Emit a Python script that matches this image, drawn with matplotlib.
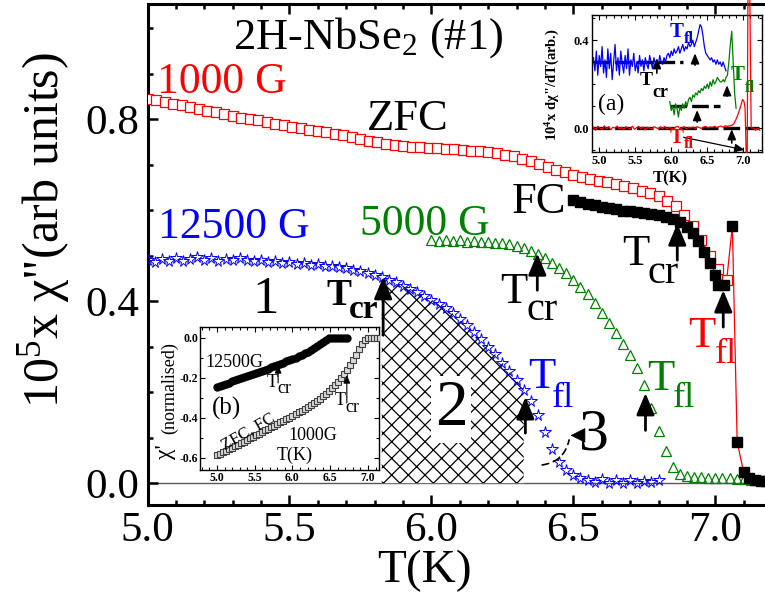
import numpy as np
import matplotlib
matplotlib.use("Agg")
import matplotlib.pyplot as plt
from matplotlib.ticker import MultipleLocator

plt.rcParams['font.family'] = 'Liberation Serif'
plt.rcParams['mathtext.fontset'] = 'custom'
plt.rcParams['mathtext.rm'] = 'Liberation Serif'
plt.rcParams['mathtext.it'] = 'Liberation Serif:italic'
plt.rcParams['mathtext.bf'] = 'Liberation Serif:bold'
plt.rcParams['axes.unicode_minus'] = False
plt.rcParams['hatch.linewidth'] = 0.9

W, H = 765, 599

# ---- main panel data ----
# 1000 G, ZFC (open red squares), T = 5.00 + 0.03*i
zfc_chi = [0.845, 0.843, 0.838, 0.834, 0.830, 0.826, 0.822, 0.818, 0.815, 0.811,
           0.807, 0.803, 0.800, 0.797, 0.793, 0.790, 0.787, 0.783, 0.780, 0.777,
           0.774, 0.771, 0.768, 0.765, 0.761, 0.757, 0.753, 0.749, 0.746, 0.743,
           0.741, 0.739, 0.738, 0.737, 0.736, 0.735, 0.734, 0.732, 0.731, 0.729,
           0.727, 0.725, 0.722, 0.718, 0.713, 0.707, 0.701, 0.695, 0.689, 0.683,
           0.677, 0.672, 0.668, 0.665, 0.662, 0.658, 0.653, 0.648, 0.643, 0.637,
           0.630, 0.621, 0.608, 0.590, 0.565, 0.535, 0.500, 0.470, 0.446]
zfc_T = 5.0 + 0.03 * np.arange(len(zfc_chi))

# 1000 G, FC (filled black squares)
fc_T = [6.50, 6.525, 6.55, 6.575, 6.60, 6.625, 6.65, 6.675, 6.70, 6.725, 6.75,
        6.775, 6.80, 6.825, 6.85, 6.875, 6.90, 6.92, 6.94, 6.96, 6.98, 7.00,
        7.01, 7.03, 7.06, 7.077, 7.10, 7.12, 7.14, 7.16, 7.18]
fc_chi = [0.622, 0.618, 0.614, 0.611, 0.607, 0.604, 0.602, 0.599, 0.597, 0.595,
          0.593, 0.591, 0.589, 0.586, 0.581, 0.575, 0.563, 0.550, 0.532, 0.507,
          0.483, 0.457, 0.435, 0.436, 0.565, 0.090, 0.024, 0.012, 0.008, 0.005,
          0.004]

# 12500 G (open blue stars), T = 5.00 + 0.025*i
b12_chi = [0.490, 0.486, 0.492, 0.488, 0.494, 0.489, 0.493, 0.497, 0.491, 0.495,
           0.489, 0.492, 0.490, 0.494, 0.491, 0.488, 0.490, 0.486, 0.488, 0.484,
           0.486, 0.482, 0.484, 0.480, 0.481, 0.477, 0.478, 0.474, 0.472, 0.468,
           0.466, 0.461, 0.457, 0.452, 0.447, 0.441, 0.434, 0.427, 0.419, 0.411,
           0.403, 0.394, 0.385, 0.373, 0.360, 0.347, 0.333, 0.317, 0.300, 0.283,
           0.265, 0.246, 0.227, 0.205, 0.180, 0.150, 0.112, 0.075, 0.046, 0.028,
           0.017, 0.011, 0.008, 0.002, 0.009, 0.001, 0.007, 0.000, 0.006, 0.001,
           0.005, 0.002, 0.006]
b12_T = 5.0 + 0.025 * np.arange(len(b12_chi))

# 5000 G (open green triangles), T = 6.00 + 0.025*i
g5_chi = [0.534, 0.533, 0.535, 0.532, 0.534, 0.531, 0.533, 0.530, 0.531, 0.528,
          0.528, 0.525, 0.522, 0.517, 0.511, 0.503, 0.494, 0.484, 0.473, 0.461,
          0.447, 0.432, 0.415, 0.395, 0.374, 0.352, 0.330, 0.306, 0.282, 0.252,
          0.215, 0.165, 0.115, 0.070, 0.035, 0.020, 0.016, 0.014, 0.013, 0.012,
          0.012, 0.011, 0.011, 0.010, 0.010, 0.008, 0.006]
g5_T = 6.0 + 0.025 * np.arange(len(g5_chi))

# hatched (region 2) limits
hatch_T0, hatch_T1 = 5.82, 6.33

# ---- inset (a): derivative, arb. units ----
a_blue = [0.32, 0.26, 0.35, 0.24, 0.33, 0.28, 0.37, 0.25, 0.31, 0.23,
          0.36, 0.27, 0.34, 0.22, 0.30, 0.38, 0.26, 0.32, 0.24, 0.35,
          0.29, 0.25, 0.33, 0.27, 0.36, 0.24, 0.31, 0.28, 0.34, 0.26,
          0.30, 0.25, 0.33, 0.28, 0.31, 0.26, 0.32, 0.29, 0.27, 0.33,
          0.30, 0.27, 0.32, 0.29, 0.31, 0.28, 0.33, 0.30, 0.29, 0.32,
          0.30, 0.33, 0.34, 0.32, 0.35, 0.33, 0.36, 0.34, 0.35, 0.37,
          0.34, 0.36, 0.38, 0.35, 0.37, 0.36, 0.39, 0.37, 0.38, 0.40,
          0.37, 0.39, 0.41, 0.44, 0.47, 0.46, 0.42, 0.37, 0.34, 0.33,
          0.32, 0.31, 0.32, 0.30, 0.31, 0.29, 0.31, 0.29, 0.30, 0.28,
          0.30, 0.28, 0.26]
a_blue_T = 4.92 + 0.02 * np.arange(len(a_blue))

a_green = [0.12, 0.08, 0.10, 0.06, 0.11, 0.09, 0.05, 0.10, 0.08, 0.11,
           0.09, 0.12, 0.10, 0.13, 0.14, 0.12, 0.15, 0.14, 0.16, 0.15,
           0.17, 0.16, 0.18, 0.17, 0.19, 0.18, 0.20, 0.18, 0.21, 0.19,
           0.22, 0.20, 0.21, 0.23, 0.22, 0.21, 0.21, 0.22, 0.21, 0.23,
           0.24, 0.30, 0.38, 0.44, 0.30, 0.16, 0.09]
a_green_T = 5.98 + 0.02 * np.arange(len(a_green))

a_red_base = [0.005, -0.010, 0.008, 0.000, -0.006, 0.010, -0.004, 0.006, -0.008, 0.004,
              0.000, 0.009, -0.005, 0.003, -0.007, 0.006, 0.000, -0.004, 0.008, -0.006,
              0.002, 0.007, -0.003, 0.005, -0.008, 0.004, 0.000, -0.005, 0.006, 0.002,
              -0.004, 0.005, -0.002, 0.007, -0.005, 0.003, 0.000, -0.006, 0.004, 0.008,
              -0.003, 0.002, 0.006, -0.004, 0.003, 0.000, 0.005, -0.003, 0.006, 0.002,
              -0.002, 0.004, 0.007, 0.000, 0.005, 0.003, 0.008, 0.002, 0.006, 0.009,
              0.004, 0.010, 0.008]
a_red_tail_T = [6.81, 6.84, 6.87, 6.90, 6.93, 6.96, 6.99, 7.01, 7.025, 7.04, 7.055,
                7.065, 7.09, 7.11, 7.14, 7.17, 7.20, 7.23]
a_red_tail = [0.010, 0.012, 0.020, 0.040, 0.065, 0.095, 0.130, 0.120, 0.090, -0.11,
              -0.11, 0.62, 0.62, 0.000, 0.000, -0.010, 0.000, -0.010]
a_red_T = np.concatenate([4.92 + 0.03 * np.arange(len(a_red_base)), a_red_tail_T])
a_red = np.concatenate([a_red_base, a_red_tail])

# dashed reference levels in inset (a)
a_lvl_y = [0.30, 0.10, 0.0]
a_lvl_x0 = [4.92, 5.98, 4.92]
a_lvl_x1 = [6.17, 6.68, 7.22]

# ---- inset (b): chi' normalised ----
b_hi = [-0.245, -0.240, -0.234, -0.229, -0.223, -0.217, -0.212, -0.207, -0.201, -0.196,
        -0.190, -0.185, -0.180, -0.175, -0.170, -0.165, -0.159, -0.153, -0.147, -0.141,
        -0.135, -0.129, -0.123, -0.117, -0.111, -0.105, -0.098, -0.091, -0.084, -0.077,
        -0.070, -0.061, -0.052, -0.042, -0.031, -0.020, -0.008, 0.000, 0.000, 0.000,
        0.000, 0.000, 0.000, 0.000]
b_hi_T = 5.0 + 0.04 * np.arange(len(b_hi))
b_lo = [-0.585, -0.578, -0.571, -0.564, -0.557, -0.550, -0.542, -0.534, -0.526, -0.518,
        -0.510, -0.502, -0.494, -0.486, -0.478, -0.470, -0.462, -0.454, -0.446, -0.438,
        -0.430, -0.422, -0.414, -0.406, -0.398, -0.390, -0.381, -0.372, -0.363, -0.354,
        -0.345, -0.335, -0.325, -0.314, -0.303, -0.292, -0.279, -0.266, -0.251, -0.236,
        -0.220, -0.202, -0.182, -0.160, -0.137, -0.112, -0.085, -0.057, -0.030, -0.010,
        0.000, 0.000, 0.000, 0.000, 0.000]
b_lo_T = 5.0 + 0.04 * np.arange(len(b_lo))

RED, BLUE, GREEN = '#ff0000', '#0000ff', '#008000'


def px_axes(fig, l, t, r, b):
    return fig.add_axes([l / W, 1 - b / H, (r - l) / W, (b - t) / H])


def tlabel(axis, x, y, sub, color, size, subsize, dx, dy, weight='normal'):
    axis.text(x, y, 'T', color=color, fontsize=size, fontweight=weight,
              ha='left', va='baseline', zorder=6)
    axis.annotate(sub, xy=(x, y), xytext=(dx, dy), textcoords='offset points',
                  color=color, fontsize=subsize, fontweight=weight,
                  ha='left', va='baseline', zorder=6)


def arrow(axis, x0, y0, x1, y1, lw=2.0, scale=22):
    axis.annotate('', xy=(x1, y1), xytext=(x0, y0), zorder=6,
                  arrowprops=dict(arrowstyle='-|>,head_length=0.6,head_width=0.25',
                                  color='k', lw=lw, mutation_scale=scale,
                                  shrinkA=0, shrinkB=0))


fig = plt.figure(figsize=(W / 100, H / 100), dpi=100)
ax = px_axes(fig, 147.5, 4, 765, 505)
ax.set_xlim(5.0, 7.175)
ax.set_ylim(-0.048, 1.053)

ax.axhline(0, color='0.35', lw=1.0, zorder=1)

# region 2 hatch under the 12500 G curve
m = (b12_T >= hatch_T0 - 1e-9) & (b12_T <= hatch_T1 + 1e-9)
ax.fill_between(b12_T[m], 0, np.array(b12_chi)[m], facecolor='white',
                edgecolor='black', hatch='xx', lw=0, zorder=1.5)

red_line_T = np.concatenate([zfc_T, [t for t in fc_T if t > 7.04]])
red_line_chi = np.concatenate([zfc_chi, [c for t, c in zip(fc_T, fc_chi) if t > 7.04]])
ax.plot(red_line_T, red_line_chi, '-', color=RED, lw=0.9, zorder=2)
ax.plot(zfc_T, zfc_chi, 's', ms=7.5, mfc='white', mec=RED, mew=0.9, zorder=3)
ax.plot(fc_T, fc_chi, 's', ms=6.5, color='black', zorder=4)
ax.plot(b12_T, b12_chi, '*', ms=8.5, mfc='none', mec=BLUE, mew=0.7, zorder=3)
ax.plot(g5_T, g5_chi, '^', ms=7, mfc='none', mec=GREEN, mew=0.9, zorder=3)

for s in ['left', 'bottom', 'top']:
    ax.spines[s].set_linewidth(2.2)
ax.spines['right'].set_visible(False)
ax.xaxis.set_major_locator(MultipleLocator(0.5))
ax.xaxis.set_minor_locator(MultipleLocator(0.1))
ax.yaxis.set_major_locator(MultipleLocator(0.4))
ax.yaxis.set_minor_locator(MultipleLocator(0.1))
ax.tick_params(which='both', direction='in', top=True, right=False, width=1.8,
               labelsize=31)
ax.tick_params(which='major', length=7)
ax.tick_params(which='minor', length=3.5)
ax.tick_params(axis='x', pad=5)
ax.tick_params(axis='y', pad=6)

fig.text(44 / W, 1 - 230 / H, '$10^{5}$x χ"(arb units)', rotation=90,
         ha='center', va='center', fontsize=36)
fig.text(425 / W, 1 - 582 / H, 'T(K)', ha='center', va='baseline', fontsize=34)

ax.text(5.30, 0.956, '2H-NbSe$_{2}$ (#1)', fontsize=32, ha='left', va='baseline')
ax.text(5.033, 0.857, '1000 G', color=RED, fontsize=31.5, ha='left', va='baseline')
ax.text(5.773, 0.776, 'ZFC', fontsize=32, ha='left', va='baseline')
ax.text(6.284, 0.593, 'FC', fontsize=32, ha='left', va='baseline')
ax.text(5.037, 0.538, '12500 G', color=BLUE, fontsize=31.5, ha='left', va='baseline')
ax.text(5.748, 0.545, '5000 G', color=GREEN, fontsize=31.5, ha='left', va='baseline')
ax.text(5.371, 0.374, '1', fontsize=38, ha='left', va='baseline')
ax.text(6.069, 0.127, '2', fontsize=47, ha='center', va='baseline', zorder=5,
        bbox=dict(facecolor='white', edgecolor='none', pad=3))
ax.text(6.572, 0.073, '3', fontsize=43, ha='center', va='baseline')

# dashed arc and small head pointing at region 3
ax.annotate('', xy=(6.485, 0.095), xytext=(6.39, 0.04),
            arrowprops=dict(arrowstyle='-', color='k', lw=1.2, ls=(0, (4, 3)),
                            connectionstyle='arc3,rad=0.35', shrinkA=0, shrinkB=0))
ax.annotate('', xy=(6.49, 0.105), xytext=(6.515, 0.105),
            arrowprops=dict(arrowstyle='-|>,head_length=0.7,head_width=0.35',
                            color='k', lw=0.5, mutation_scale=14, shrinkA=0, shrinkB=0))

# T_cr / T_fl markers
arrow(ax, 5.83, 0.325, 5.83, 0.453)
arrow(ax, 6.373, 0.424, 6.373, 0.505)
arrow(ax, 6.866, 0.49, 6.866, 0.571)
arrow(ax, 6.331, 0.11, 6.331, 0.189)
arrow(ax, 6.754, 0.116, 6.754, 0.198)
arrow(ax, 7.028, 0.343, 7.028, 0.424)

tlabel(ax, 5.632, 0.391, 'cr', 'k', 27, 24, 15.5, -9.5, weight='bold')
tlabel(ax, 6.241, 0.396, 'cr', 'k', 32, 29, 19.4, -12.5)
tlabel(ax, 6.671, 0.479, 'cr', 'k', 32, 29, 18.7, -13)
tlabel(ax, 6.340, 0.209, 'fl', BLUE, 32, 26, 17.5, -13.5)
tlabel(ax, 6.759, 0.204, 'fl', GREEN, 32, 26, 18.7, -12.2)
tlabel(ax, 6.903, 0.299, 'fl', RED, 32, 26, 19.4, -11.5)

# ---- inset (a) ----
axa = px_axes(fig, 592, 15, 762, 152)
axa.set_facecolor('white')
axa.set_xlim(4.9, 7.26)
axa.set_ylim(-0.109, 0.514)
axa.hlines(a_lvl_y, a_lvl_x0, a_lvl_x1, colors='k', lw=2.4,
           linestyles=[(0, (5, 1.5))], zorder=2)
axa.plot(a_blue_T, a_blue, '-', color=BLUE, lw=0.9, zorder=3)
axa.plot(a_green_T, a_green, '-', color=GREEN, lw=0.9, zorder=3)
axa.plot(a_red_T, a_red, '-', color=RED, lw=0.9, zorder=3, clip_on=False)

arrow(axa, 5.80, 0.25, 5.80, 0.318, lw=1.2, scale=10)
arrow(axa, 6.33, 0.286, 6.33, 0.34, lw=1.2, scale=10)
arrow(axa, 6.36, 0.027, 6.36, 0.082, lw=1.2, scale=10)
arrow(axa, 6.775, 0.145, 6.775, 0.195, lw=1.2, scale=10)
arrow(axa, 6.84, -0.068, 6.84, -0.005, lw=1.2, scale=10)
arrow(axa, 6.17, -0.042, 7.02, -0.10, lw=0.9, scale=10)

tlabel(axa, 5.567, 0.195, 'cr', 'k', 14, 13, 9.0, -8.6, weight='bold')
tlabel(axa, 5.983, 0.414, 'fl', BLUE, 15, 12, 9.8, -4.3, weight='bold')
tlabel(axa, 6.83, 0.218, 'fl', GREEN, 15, 12, 9.8, -8.6, weight='bold')
tlabel(axa, 5.983, -0.068, 'fl', RED, 15, 12, 9.8, -3.6, weight='bold')
axa.text(4.983, 0.082, '(a)', fontsize=17, ha='left', va='baseline')

axa.xaxis.set_major_locator(MultipleLocator(0.5))
axa.xaxis.set_minor_locator(MultipleLocator(0.1))
axa.yaxis.set_major_locator(MultipleLocator(0.4))
axa.yaxis.set_minor_locator(MultipleLocator(0.1))
axa.tick_params(which='both', direction='in', top=True, right=True, width=0.8,
                labelsize=9, pad=2)
axa.tick_params(which='major', length=3.5)
axa.tick_params(which='minor', length=2)
for lab in axa.get_xticklabels() + axa.get_yticklabels():
    lab.set_fontweight('bold')
for s in axa.spines.values():
    s.set_linewidth(1.0)
axa.set_ylabel('$\\mathbf{10^{4}}$x dχ"/dT(arb.)', fontsize=10.5, fontweight='bold')
axa.yaxis.set_label_coords(-0.175, 0.49)
axa.text(0.46, -0.19, 'T(K)', transform=axa.transAxes, fontsize=12,
         fontweight='bold', ha='center', va='center')

# ---- inset (b) ----
axb = px_axes(fig, 200, 327, 379, 470)
axb.set_facecolor('white')
axb.set_xlim(4.775, 7.146)
axb.set_ylim(-0.66, 0.055)
axb.plot(b_hi_T, b_hi, '-o', color='black', lw=2.5, ms=5, zorder=3)
axb.plot(b_lo_T, b_lo, 's', ms=5, mfc='0.85', mec='0.25', mew=0.8, zorder=3)

arrow(axb, 5.81, -0.225, 5.81, -0.135, lw=0.8, scale=8)
arrow(axb, 6.72, -0.325, 6.72, -0.185, lw=0.8, scale=8)
tlabel(axb, 5.662, -0.245, 'cr', 'k', 13, 13, 7.2, -4)
tlabel(axb, 6.563, -0.335, 'cr', 'k', 13, 13, 7.2, -5)
axb.text(4.84, -0.145, '12500G', fontsize=13, ha='left', va='baseline')
axb.text(4.934, -0.385, '(b)', fontsize=18, ha='left', va='baseline')
axb.text(5.41, -0.47, 'ZFC, FC', fontsize=12, rotation=30, ha='center', va='center')
axb.text(5.94, -0.51, '1000G', fontsize=13, ha='left', va='baseline')
axb.text(6.03, -0.61, 'T(K)', fontsize=13, ha='center', va='baseline')

axb.xaxis.set_major_locator(MultipleLocator(0.5))
axb.xaxis.set_minor_locator(MultipleLocator(0.1))
axb.yaxis.set_major_locator(MultipleLocator(0.2))
axb.yaxis.set_minor_locator(MultipleLocator(0.1))
axb.tick_params(which='both', direction='in', top=True, right=True, width=0.8,
                labelsize=8.5, pad=1.5)
axb.tick_params(which='major', length=3.5)
axb.tick_params(which='minor', length=2)
for lab in axb.get_xticklabels() + axb.get_yticklabels():
    lab.set_fontweight('bold')
for s in axb.spines.values():
    s.set_linewidth(1.0)
fig.text(166 / W, 1 - 452 / H, "χ'", rotation=90, fontsize=17, ha='center', va='center')
fig.text(170 / W, 1 - 388 / H, '(normalised)', rotation=90, fontsize=13,
         ha='center', va='center')

fig.savefig('out.png', dpi=100)
